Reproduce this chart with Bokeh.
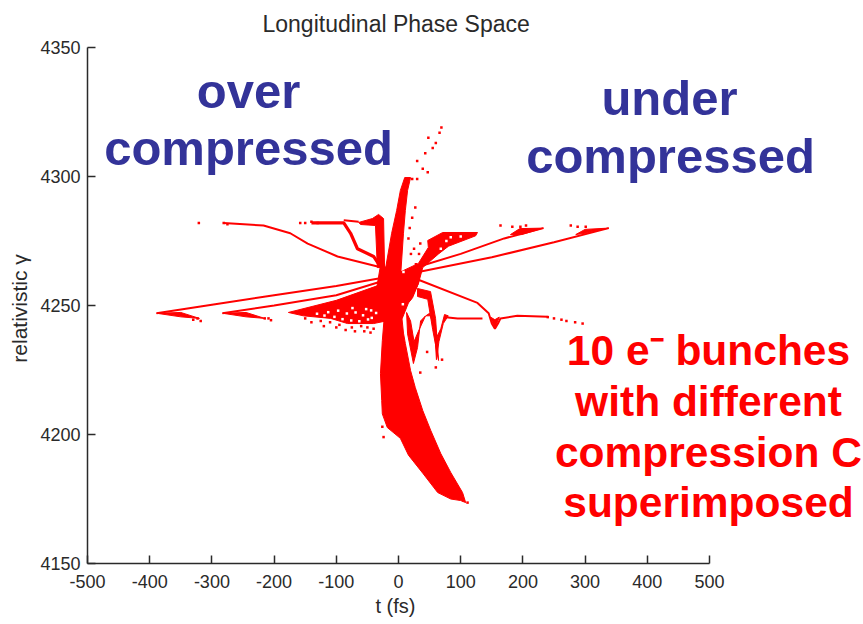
from bokeh.plotting import figure
from bokeh.models import Label, Range1d, FixedTicker, Title
from bokeh.embed import file_html
from bokeh.resources import INLINE

RED = "#ff0000"
BLUE = "#333399"
FONT = "Liberation Sans"
INK = "#2a2a2a"

x_ticks = [-500, -400, -300, -200, -100, 0, 100, 200, 300, 400, 500]
y_ticks = [4150, 4200, 4250, 4300, 4350]

# thin phase-space traces (t in fs, gamma)
over1_t = [-389, -300, -200, -100, -32]
over1_g = [4247, 4250.3, 4254, 4257.6, 4260.5]
over2_t = [-283, -200, -100, -32]
over2_g = [4247, 4250, 4254, 4259]
curve1_t = [-281, -217, -174, -146, -98, -32]
curve1_g = [4282, 4281, 4278, 4274, 4269, 4265]
curve3_t = [-88, -64]
curve3_g = [4283, 4282.5]
under1_t = [32, 150, 250, 338]
under1_g = [4263, 4268.7, 4274.5, 4280]
under2_t = [32, 100, 170, 233]
under2_g = [4265, 4270, 4276, 4280]
under_b_t = [32, 127, 145, 150, 155, 160, 164, 191, 240]
under_b_g = [4260, 4251, 4247, 4243, 4241, 4243, 4245, 4246, 4245.6]
under_d_t = [76, 95, 124, 135]
under_d_g = [4245.4, 4245, 4245, 4245]
# thicker trace
curve2_t = [-140, -88, -77, -66, -40, -29]
curve2_g = [4282, 4282, 4278, 4272, 4269, 4265]

# filled regions
crescent_t = [-29, -21, -26, -29, -27, -26, -18, 3, 16, 39, 63, 84, 100, 108,
              103, 84, 68, 52, 39, 27, 19.4, 11, 8, 3, 3]
crescent_g = [4263.6, 4251, 4236.4, 4223.6, 4213.2, 4208, 4202.7, 4198.5, 4192, 4185, 4177.5, 4175, 4174.4, 4173.6,
              4177.5, 4185.3, 4192.6, 4201.5, 4209.3, 4218.2, 4224.8, 4235.3, 4239.3, 4251, 4263.6]
spike_t = [19.4, 14.6, 11, 8, 3, -24, -11, -3, 3, 10]
spike_g = [4299.6, 4294.6, 4286.8, 4278, 4260, 4260, 4278, 4286.8, 4294.6, 4299.6]
center_t = [-29, 3, 35.5, 32, 22.6, 16, 6, -26, -37]
center_g = [4265.5, 4263, 4263.6, 4258.5, 4253, 4251, 4245, 4244, 4254]
fan_t = [3, 32, 48, 47, 71, 127, 124, 80.5, 64.4, 39, 32, 19, 5]
fan_g = [4263, 4266.3, 4272.5, 4275.2, 4278.3, 4278.3, 4277, 4273, 4270, 4264.7, 4258.5, 4252, 4250]
wedge_t = [-177, -100, -30, -20, -40, -82, -109, -153]
wedge_g = [4247.3, 4252, 4258, 4244, 4243, 4243, 4245, 4246]
vee1_t = [13, 14.6, 24, 30.6, 35.5, 43.5, 32, 25, 19.4]
vee1_g = [4247.3, 4239, 4227.5, 4233.7, 4244, 4246, 4240, 4236, 4244]
vee2_t = [44, 50, 58, 61, 65, 72, 80, 74, 68, 62, 54]
vee2_g = [4246, 4247, 4241, 4229, 4236, 4243, 4246, 4246.5, 4241, 4238, 4246]
hook_t = [30.6, 51.5, 59.6, 64.4, 55, 47, 30.6]
hook_g = [4256.6, 4255.4, 4245, 4228.7, 4240.6, 4252.4, 4253.5]
bend_t = [-64, -42, -32, -24, -22.4, -34, -37, -61]
bend_g = [4282.2, 4283.7, 4285.3, 4283.7, 4264.7, 4264.7, 4281, 4281.4]
tail1_t = [-389, -350, -320, -350]
tail1_g = [4247, 4247.3, 4245, 4245.6]
tail2_t = [-283, -245, -215, -245]
tail2_g = [4247, 4247.3, 4245, 4245.6]
tip1_t = [338, 300, 285, 300]
tip1_g = [4280, 4279.5, 4277.5, 4278]
tip2_t = [233, 195, 180, 198]
tip2_g = [4280, 4279.8, 4277.5, 4277.5]
dip_t = [148, 155, 162, 155]
dip_g = [4245.5, 4241, 4245.5, 4244.5]

# stray macro-particles
dots_t = [-321, -281, -275, -158, -150, -140, -130, -323, -318, -330, -209, -205, -215,
          30, 43, 48, 69, 66, 60, 55, 22, 30, 39, 47, 27, 22, 16, 25, 20, 35, 40, 28, 18, 33,
          164, 183, 196, 205, 277, 288, 301, 296, 240, 250, 262, 270, 284,
          -24, -26, 111, 104, 99, 60, 70, 46, 35,
          -150, -140, -125, -120, -110, -100, -95, -85, -75, -70, -60, -55, -50, -45, -40]
dots_g = [4282, 4282, 4281.5, 4282, 4282, 4282.5, 4282, 4245, 4244, 4244.5, 4245, 4244.3, 4245,
          4306, 4309, 4315, 4319, 4317, 4313, 4311, 4299, 4299, 4303, 4301.6, 4288, 4284, 4276, 4272, 4270, 4274, 4268, 4266, 4280, 4270,
          4281, 4280.5, 4280.5, 4281, 4281, 4280.5, 4280.5, 4243, 4245.5, 4245, 4244.5, 4244, 4243.5,
          4199, 4203, 4173.6, 4174.5, 4175.5, 4226, 4229, 4232, 4224,
          4245, 4243.5, 4244, 4242, 4243.5, 4241.5, 4242.5, 4240.5, 4241.5, 4240, 4242, 4240, 4241.5, 4239.5, 4241]
# gaps inside the dense regions
gaps_t = [-131, -119, -113, -103, -97, -90, -83, -76, -69, -63, -57, -49, -43, -36, -52, -74, -44,
          77, 84, 100, 68, 8, 7]
gaps_g = [4246.8, 4246.1, 4247.4, 4245.6, 4248, 4244.7, 4246.9, 4244.2, 4247.3, 4243.9, 4246.2,
          4244.6, 4245.2, 4247.1, 4248.6, 4249, 4248.1, 4275, 4276.5, 4276.7, 4272, 4263, 4250.5]

p = figure(width=863, height=624, output_backend="svg", toolbar_location=None,
           x_range=Range1d(-500, 747.6), y_range=Range1d(4150, 4350),
           min_border_left=87, min_border_right=0, min_border_top=47, min_border_bottom=61)
p.outline_line_color = None
p.grid.visible = False
p.add_layout(Title(text="Longitudinal Phase Space", text_font=FONT, text_font_style="normal",
                   text_font_size="23px", text_color=INK, align="left", offset=175,
                   vertical_align="top", standoff=18), "above")

for ax, ticks, stand in ((p.xaxis[0], x_ticks, 11), (p.yaxis[0], y_ticks, 7)):
    ax.ticker = FixedTicker(ticks=ticks)
    ax.bounds = (ticks[0], ticks[-1])
    ax.major_label_overrides = {t: str(t) for t in ticks}
    ax.minor_tick_line_color = None
    ax.major_tick_in = 8
    ax.major_tick_out = 0
    ax.axis_line_color = INK
    ax.axis_line_width = 1.5
    ax.major_tick_line_color = INK
    ax.major_tick_line_width = 1.5
    ax.major_label_text_font = FONT
    ax.major_label_text_font_size = "18px"
    ax.major_label_text_color = INK
    ax.major_label_standoff = stand

p.yaxis[0].axis_label = "relativistic  γ"
p.yaxis[0].axis_label_text_font = FONT
p.yaxis[0].axis_label_text_font_style = "normal"
p.yaxis[0].axis_label_text_font_size = "21px"
p.yaxis[0].axis_label_text_color = INK
p.yaxis[0].axis_label_standoff = 6

p.add_layout(Title(text="t (fs)", text_font=FONT, text_font_style="normal", text_font_size="20px",
                   text_color=INK, align="left", offset=288, standoff=5), "below")

regions = [(crescent_t, crescent_g), (spike_t, spike_g), (center_t, center_g), (fan_t, fan_g),
           (wedge_t, wedge_g), (vee1_t, vee1_g), (vee2_t, vee2_g), (hook_t, hook_g), (bend_t, bend_g),
           (tail1_t, tail1_g), (tail2_t, tail2_g), (tip1_t, tip1_g), (tip2_t, tip2_g), (dip_t, dip_g)]
p.patches([r[0] for r in regions], [r[1] for r in regions], fill_color=RED, line_color=RED, line_width=1)

traces = [(over1_t, over1_g), (over2_t, over2_g), (curve1_t, curve1_g), (curve3_t, curve3_g),
          (under1_t, under1_g), (under2_t, under2_g), (under_b_t, under_b_g), (under_d_t, under_d_g)]
p.multi_line([r[0] for r in traces], [r[1] for r in traces], line_color=RED, line_width=2)
p.line(curve2_t, curve2_g, line_color=RED, line_width=3.2)
p.scatter(gaps_t, gaps_g, marker="square", size=2.5, fill_color="white", line_color=None)
p.scatter(dots_t, dots_g, marker="square", size=2.5, fill_color=RED, line_color=None)

LIFT = 18
annotations = [
    ("over", 248, 108, BLUE, 49), ("compressed", 248, 165, BLUE, 49),
    ("under", 669, 115, BLUE, 49), ("compressed", 670, 173, BLUE, 49),
    ("10 e⁻ bunches", 708, 368, RED, 42.5), ("with different", 708, 419, RED, 42.5),
    ("compression C", 708, 470, RED, 42.5), ("superimposed", 708, 520, RED, 42.5),
]
for text, x, y, color, size in annotations:
    p.add_layout(Label(x=x, y=y - LIFT, x_units="canvas", y_units="canvas", text=text, text_font=FONT,
                       text_font_style="bold", text_font_size=f"{size}px", text_color=color,
                       text_align="center", text_baseline="alphabetic"))

open("out.html", "w").write(file_html(p, INLINE))
